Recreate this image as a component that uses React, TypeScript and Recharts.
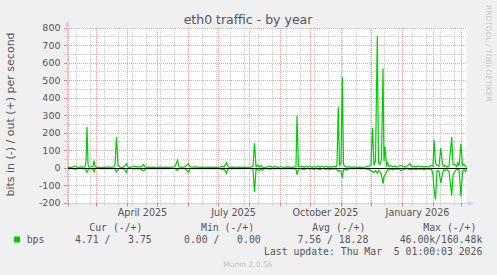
import React from 'react';
import { LineChart, Line, XAxis, YAxis, ReferenceLine } from 'recharts';

// day offsets from the graph start (Jan 30 2025, 12:00)
const days = [
  0, 2, 4, 6, 8, 9, 10, 12, 14, 16, 18, 19, 20, 21, 22, 24, 26, 27, 28, 29,
  31, 33, 35, 37, 39, 41, 43, 45, 47, 48, 49.5, 51, 52, 53, 55, 57, 59.5, 61, 63, 65,
  67, 69, 71, 73, 75, 76.5, 78, 79, 81, 84, 87, 90, 93, 96, 99, 102, 105, 108, 110.5, 112,
  115, 118, 121.5, 123, 126, 129, 132, 135, 138, 141, 144, 147, 150, 153, 155.5, 157, 159.5, 161, 163, 166,
  169, 172, 175, 178, 181, 184, 186, 187.5, 189, 191, 192.5, 194, 195.5, 197, 200, 203, 205, 208, 211, 214,
  217, 220, 223, 226, 229, 230, 231.5, 233, 235, 237, 239, 241, 243, 245, 247, 249, 251, 253, 255, 257,
  259, 261, 263, 265, 267, 269, 270, 271.3, 272.5, 274, 275.3, 276.5, 278, 280, 282, 284, 287, 290, 293, 296,
  299, 302, 304, 305.5, 307, 308.5, 310.3, 311.5, 313, 314.5, 316, 317, 318, 319.5, 320.7, 322, 324, 326, 328, 330,
  332, 334, 336, 338, 340, 343, 345, 347, 349, 351, 353, 355, 357, 359, 361, 363, 364.7, 366, 367, 368.5,
  370, 372, 373.8, 375.5, 377, 378, 380, 382, 384.7, 386, 388, 389.5, 390.7, 392, 394, 395.5, 397, 398.5, 400,
];

// bits per second sent (+)
const outBps = [
  4, 5, 4, 6, 10, 12, 5, 4, 6, 5, 6, 40, 234, 20, 5, 6, 8, 42, 10, 4,
  5, 4, 3, 5, 4, 6, 4, 5, 6, 20, 177, 15, 12, 5, 4, 6, 25, 5, 4, 6,
  12, 5, 8, 5, 10, 20, 6, 4, 5, 4, 5, 3, 5, 4, 5, 4, 5, 6, 45, 6,
  4, 6, 25, 6, 5, 6, 4, 5, 4, 5, 4, 5, 4, 5, 10, 5, 30, 6, 4, 5,
  4, 5, 4, 5, 4, 5, 10, 143, 8, 15, 4, 15, 5, 4, 5, 12, 4, 8, 4, 7,
  4, 6, 5, 4, 8, 299, 10, 5, 10, 4, 9, 5, 10, 4, 8, 5, 10, 4, 9, 5,
  11, 4, 8, 5, 9, 6, 20, 348, 15, 30, 520, 20, 10, 5, 8, 4, 6, 4, 5, 4,
  6, 10, 20, 230, 15, 40, 756, 30, 20, 50, 570, 40, 123, 15, 30, 8, 15, 5, 12, 6,
  10, 15, 8, 5, 10, 25, 6, 10, 5, 12, 8, 10, 5, 9, 6, 8, 15, 10, 160, 30,
  15, 10, 114, 20, 8, 15, 6, 10, 177, 20, 20, 8, 30, 10, 139, 15, 20, 8, 4,
];

// bits per second received (-), plotted below zero
const inBps = [
  3, 3, 2, 4, 6, 8, 3, 2, 3, 3, 4, 10, 25, 12, 3, 4, 6, 22, 8, 3,
  2, 3, 2, 3, 2, 3, 2, 3, 3, 8, 22, 10, 6, 3, 3, 4, 25, 3, 2, 4,
  6, 3, 6, 3, 12, 15, 10, 3, 3, 2, 3, 2, 3, 2, 3, 3, 2, 3, 15, 4,
  3, 3, 25, 4, 3, 4, 3, 3, 2, 3, 3, 2, 3, 3, 10, 4, 30, 5, 3, 3,
  2, 3, 3, 3, 2, 3, 8, 139, 6, 12, 15, 5, 12, 3, 3, 8, 3, 5, 3, 5,
  3, 4, 3, 3, 6, 38, 8, 3, 6, 8, 5, 3, 8, 3, 9, 3, 6, 8, 4, 3,
  9, 3, 10, 4, 6, 4, 10, 20, 12, 20, 57, 10, 8, 12, 4, 3, 5, 3, 4, 3,
  5, 8, 15, 20, 25, 15, 30, 15, 20, 40, 90, 50, 40, 20, 10, 12, 6, 10, 5, 8,
  4, 15, 10, 6, 4, 10, 8, 5, 10, 4, 8, 5, 10, 4, 8, 5, 10, 40, 120, 180,
  15, 20, 86, 30, 10, 15, 8, 20, 158, 40, 20, 6, 10, 8, 162, 20, 10, 20, 5,
];

const monthStarts = [1.5, 29.5, 60.5, 90.5, 121.5, 151.5, 182.5, 213.5, 243.5, 274.5, 304.5, 335.5, 366.5, 394.5];
const biweekly = [
  9.5, 23.5, 37.5, 51.5, 65.5, 79.5, 93.5, 107.5, 135.5, 149.5, 163.5, 177.5, 191.5, 205.5,
  219.5, 233.5, 247.5, 261.5, 275.5, 289.5, 303.5, 317.5, 331.5, 345.5, 359.5, 373.5, 387.5,
];
const labelDays = [75.5, 166.5, 258.5, 350.5];
const labelTexts = ['April 2025', 'July 2025', 'October 2025', 'January 2026'];
const yMajor = [-200, -100, 0, 100, 200, 300, 400, 500, 600, 700, 800];
const yMinor = [-150, -50, 50, 150, 250, 350, 450, 550, 650, 750];

const legendHeaders = ['Cur (-/+)', 'Min (-/+)', 'Avg (-/+)', 'Max (-/+)'];
const legendValues = ['4.71 /   3.75', '0.00 /   0.00', '7.56 / 18.28', '46.00k/160.48k'];

const data = days.map((d, i) => ({ day: d, out: outBps[i], inn: -inBps[i] }));
const xTicks = [...monthStarts, ...biweekly, ...labelDays].sort((a, b) => a - b);
const yTicks = [...yMajor, ...yMinor].sort((a, b) => a - b);

const RED = '#EBA0A0';
const GRAY = '#CFCFCF';
const RED_H = '#E8A0A0';
const GRAY_H = '#CCCCCC';
const AXIS = '#CCCCFF';
const TXT = '#555555';
const GREEN = '#00CC00';

const PLOT_LEFT = 67;

const snap = (v: number) => Math.round(v - 0.5) + 0.5;

const gridShape = (color: string, dash: string | undefined, width = 1) => (p: any) => {
  const { x1, y1, x2, y2 } = p;
  const horizontal = Math.abs(y2 - y1) < 0.5;
  const X1 = horizontal ? x1 : snap(x1);
  const X2 = horizontal ? x2 : snap(x2);
  const Y1 = horizontal ? snap(y1) : y1;
  const Y2 = horizontal ? snap(y2) : y2;
  return <line x1={X1} y1={Y1} x2={X2} y2={Y2} stroke={color} strokeWidth={width} strokeDasharray={dash} />;
};

const grayGrid = gridShape(GRAY, '1 1');
const redGrid = gridShape(RED, '1 1');
const grayGridH = gridShape(GRAY_H, '1 1');
const redGridH = gridShape(RED_H, '1 1');
const zeroRule = gridShape('#000000', undefined, 1.2);

const XTick = (props: any) => {
  const { x, payload } = props;
  const y = 203;
  const v = payload.value;
  const li = labelDays.indexOf(v);
  if (li >= 0) {
    return (
      <text x={x} y={y + 12.5} textAnchor="middle" fontSize={9.6} fill={TXT} fontFamily="DejaVu Sans">
        {labelTexts[li]}
      </text>
    );
  }
  const red = monthStarts.includes(v);
  const sx = snap(x);
  return <line x1={sx} x2={sx} y1={y} y2={y + (red ? 3.5 : 2.5)} stroke={red ? '#F08080' : GRAY} />;
};

const YTick = (props: any) => {
  const { y, payload } = props;
  const v = payload.value;
  const major = yMajor.includes(v);
  const sy = snap(y);
  return (
    <g>
      <line x1={PLOT_LEFT - 3} x2={PLOT_LEFT} y1={sy} y2={sy} stroke={major ? '#F08080' : GRAY} />
      {major && (
        <text x={PLOT_LEFT - 6.5} y={y + 3.4} textAnchor="end" fontSize={9.5} fill={TXT} fontFamily="DejaVu Sans">
          {v}
        </text>
      )}
    </g>
  );
};

const ArrowLine = (props: any) => {
  const { x1, y1, x2, y2 } = props;
  const vertical = Math.abs(x2 - x1) < 0.5;
  const X1 = vertical ? snap(x1) : x1;
  const X2 = vertical ? snap(x2) : x2;
  const Y1 = vertical ? y1 : snap(y1);
  const Y2 = vertical ? y2 : snap(y2);
  const tri = vertical
    ? `${X2},${Y2} ${X2 - 2.6},${Y2 + 5} ${X2 + 2.6},${Y2 + 5}`
    : `${X2},${Y2} ${X2 - 5},${Y2 - 2.6} ${X2 - 5},${Y2 + 2.6}`;
  return (
    <g>
      <line x1={X1} y1={Y1} x2={X2} y2={Y2} stroke={AXIS} strokeWidth={1} />
      <polygon points={tri} fill={AXIS} />
    </g>
  );
};

const hSeg = (v: number) => [{ x: 0, y: v }, { x: 400, y: v }];

export default function App() {
  return (
    <div style={{ position: 'absolute', left: 0, top: 0, width: 497, height: 275, background: '#F0F0F0', overflow: 'hidden' }}>
      {/* white plot background, placed under the (transparent) chart svg */}
      <div style={{ position: 'absolute', left: 67, top: 28, width: 400, height: 175, background: '#FFFFFF' }} />
      <div style={{ position: 'absolute', left: 0, top: 0 }}>
        <LineChart width={497} height={275} data={data} margin={{ top: 28, right: 30, bottom: 71, left: 66 }}>
          <XAxis
            dataKey="day"
            type="number"
            domain={[0, 400]}
            allowDataOverflow
            ticks={xTicks}
            interval={0}
            tick={XTick}
            tickLine={false}
            axisLine={false}
            height={1}
            tickSize={0}
            tickMargin={0}
          />
          <YAxis
            type="number"
            domain={[-200, 800]}
            allowDataOverflow
            ticks={yTicks}
            interval={0}
            tick={YTick}
            tickLine={false}
            axisLine={false}
            width={1}
            tickSize={0}
            tickMargin={0}
          />
          {yMinor.map((v) => (
            <ReferenceLine key={'ym' + v} segment={hSeg(v)} ifOverflow="visible" stroke={GRAY_H} shape={grayGridH} />
          ))}
          {biweekly.map((v) => (
            <ReferenceLine key={'xm' + v} x={v} stroke={GRAY} shape={grayGrid} />
          ))}
          {yMajor.map((v) => (
            <ReferenceLine key={'yM' + v} segment={hSeg(v)} ifOverflow="visible" stroke={RED_H} shape={redGridH} />
          ))}
          {monthStarts.map((v) => (
            <ReferenceLine key={'xM' + v} x={v} stroke={RED} shape={redGrid} />
          ))}
          <Line type="linear" dataKey="out" stroke={GREEN} strokeWidth={1.2} dot={false} isAnimationActive={false} />
          <Line type="linear" dataKey="inn" stroke={GREEN} strokeWidth={1.2} dot={false} isAnimationActive={false} />
          <ReferenceLine segment={hSeg(0)} ifOverflow="visible" stroke="#000000" shape={zeroRule} />
          <ReferenceLine
            segment={[{ x: -4, y: -200 }, { x: 406, y: -200 }]}
            ifOverflow="visible"
            shape={ArrowLine}
          />
          <ReferenceLine
            segment={[{ x: 0, y: -212 }, { x: 0, y: 840 }]}
            ifOverflow="visible"
            shape={ArrowLine}
          />
        </LineChart>
      </div>
      <svg
        width={497}
        height={275}
        style={{ position: 'absolute', left: 0, top: 0, pointerEvents: 'none' }}
      >
        <text x={248} y={23.5} textAnchor="middle" fontSize={12.5} fill={TXT} fontFamily="DejaVu Sans">
          eth0 traffic - by year
        </text>
        <text
          x={13.8}
          y={114.5}
          transform="rotate(-90 13.8 114.5)"
          textAnchor="middle"
          fontSize={11}
          fill={TXT}
          fontFamily="DejaVu Sans"
        >
          bits in (-) / out (+) per second
        </text>
        <text
          x={485.5}
          y={5}
          transform="rotate(90 485.5 5)"
          textAnchor="start"
          fontSize={7.5}
          fill="#C8C8C8"
          fontFamily="DejaVu Sans"
        >
          RRDTOOL / TOBI OETIKER
        </text>
        <g fontFamily="DejaVu Sans Mono" fontSize={9.8} fill={TXT} style={{ whiteSpace: 'pre' }}>
          {legendHeaders.map((h, i) => (
            <text key={h} x={[89.3, 201, 312.3, 423.3][i]} y={231} xmlSpace="preserve">
              {h}
            </text>
          ))}
          <rect x={14} y={236.5} width={6} height={6} fill={GREEN} />
          <text x={26.7} y={243} xmlSpace="preserve">bps</text>
          {legendValues.map((v, i) => (
            <text key={i} x={[151.7, 260.7, 368.3, 482.3][i]} y={243} textAnchor="end" xmlSpace="preserve">
              {v}
            </text>
          ))}
          <text x={482.3} y={255} textAnchor="end" xmlSpace="preserve">
            {'Last update: Thu Mar  5 01:00:03 2026'}
          </text>
        </g>
        <text x={223.3} y={266.5} fontSize={7.5} fill="#C0C0C0" fontFamily="DejaVu Sans">
          Munin 2.0.56
        </text>
      </svg>
    </div>
  );
}
